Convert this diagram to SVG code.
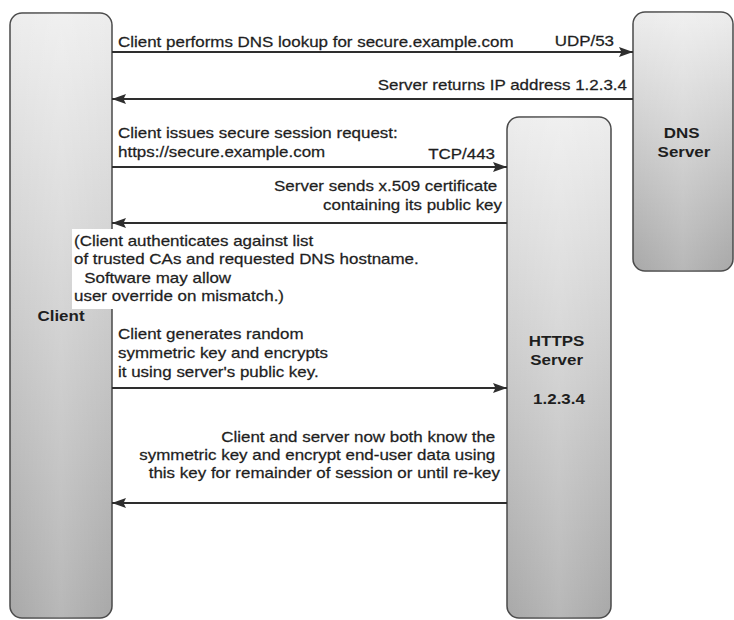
<svg xmlns="http://www.w3.org/2000/svg" width="734" height="620" viewBox="0 0 734 620">
  <defs>
    <linearGradient id="boxFill" x1="0" y1="0" x2="0" y2="1">
      <stop offset="0" stop-color="#ededed"/>
      <stop offset="0.5" stop-color="#cbcbcb"/>
      <stop offset="1" stop-color="#a8a8a8"/>
    </linearGradient>
    <linearGradient id="boxSheen" x1="0" y1="0" x2="1" y2="0">
      <stop offset="0" stop-color="#ffffff" stop-opacity="0"/>
      <stop offset="0.5" stop-color="#ffffff" stop-opacity="0.18"/>
      <stop offset="1" stop-color="#ffffff" stop-opacity="0"/>
    </linearGradient>
    <marker id="arrow" markerUnits="userSpaceOnUse" markerWidth="15" markerHeight="12" refX="14" refY="6" orient="auto">
      <path d="M0,1 L14,6 L0,11 L2.5,6 Z" fill="#2e2e2e"/>
    </marker>
    <style>
      .box { fill: url(#boxFill); stroke: #4a4a4a; stroke-width: 1.5; }
      .sheen { fill: url(#boxSheen); stroke: none; }
      .t { font-family: "Liberation Sans", Arial, Helvetica, sans-serif; font-size: 15px; fill: #1e1e1e; stroke: #1e1e1e; stroke-width: 0.25; }
      .b { font-weight: bold; stroke-width: 0; }
      .e { text-anchor: end; }
      .m { text-anchor: middle; }
      .msg { stroke: #2e2e2e; stroke-width: 2; fill: none; marker-end: url(#arrow); }
    </style>
  </defs>

  <rect width="734" height="620" fill="#ffffff"/>

  <!-- Client lifeline -->
  <g id="client">
    <rect class="box" x="10" y="13" width="102" height="605" rx="12"/>
    <rect class="sheen" x="10" y="13" width="102" height="605" rx="12"/>
    <text class="t b m" transform="translate(61,321) scale(1.13,1)">Client</text>
  </g>

  <!-- HTTPS server lifeline -->
  <g id="https-server">
    <rect class="box" x="507" y="117" width="104" height="501" rx="12"/>
    <rect class="sheen" x="507" y="117" width="104" height="501" rx="12"/>
    <text class="t b m" transform="translate(559,346) scale(1.13,1)">
      <tspan x="0" y="0">HTTPS</tspan>
      <tspan x="0" y="19">Server</tspan>
      <tspan x="0" y="58">1.2.3.4</tspan>
    </text>
  </g>

  <!-- DNS server lifeline -->
  <g id="dns-server">
    <rect class="box" x="633" y="12" width="100" height="259" rx="12"/>
    <rect class="sheen" x="633" y="12" width="100" height="259" rx="12"/>
    <text class="t b m" transform="translate(684,138) scale(1.13,1)">
      <tspan x="0" y="0">DNS</tspan>
      <tspan x="0" y="19">Server</tspan>
    </text>
  </g>

  <!-- Client-side validation note, on a white panel over the client bar -->
  <g id="auth-note">
    <rect x="72" y="229" width="353" height="80" fill="#ffffff"/>
    <text class="t" transform="translate(74,246) scale(1.13,1)">
      <tspan x="0" y="0">(Client authenticates against list</tspan>
      <tspan x="0" y="18.5">of trusted CAs and requested DNS hostname.</tspan>
      <tspan x="9" y="37">Software may allow</tspan>
      <tspan x="0" y="55.5">user override on mismatch.)</tspan>
    </text>
  </g>

  <!-- Message arrows -->
  <g id="connectors">
    <line class="msg" x1="112" y1="52" x2="633" y2="52"/>
    <line class="msg" x1="633" y1="99" x2="112" y2="99"/>
    <line class="msg" x1="112" y1="167" x2="507" y2="167"/>
    <line class="msg" x1="507" y1="223" x2="112" y2="223"/>
    <line class="msg" x1="112" y1="388" x2="507" y2="388"/>
    <line class="msg" x1="507" y1="503" x2="112" y2="503"/>
  </g>

  <!-- Message labels -->
  <g id="labels">
    <text class="t" transform="translate(118,47) scale(1.13,1)">Client performs DNS lookup for secure.example.com</text>
    <text class="t e" transform="translate(614,46) scale(1.13,1)">UDP/53</text>
    <text class="t e" transform="translate(627,90) scale(1.13,1)">Server returns IP address 1.2.3.4</text>
    <text class="t" transform="translate(118,138) scale(1.13,1)">
      <tspan x="0" y="0">Client issues secure session request:</tspan>
      <tspan x="0" y="19">https://secure.example.com</tspan>
    </text>
    <text class="t e" transform="translate(495,159) scale(1.13,1)">TCP/443</text>
    <text class="t e" transform="translate(502,191) scale(1.13,1)">
      <tspan x="0" y="0">Server sends x.509 certificate</tspan>
      <tspan x="0" y="19">containing its public key</tspan>
    </text>
    <text class="t" transform="translate(118,339) scale(1.13,1)">
      <tspan x="0" y="0">Client generates random</tspan>
      <tspan x="0" y="19">symmetric key and encrypts</tspan>
      <tspan x="0" y="38">it using server's public key.</tspan>
    </text>
    <text class="t e" transform="translate(500,442) scale(1.13,1)">
      <tspan x="0" y="0">Client and server now both know the</tspan>
      <tspan x="0" y="18">symmetric key and encrypt end-user data using</tspan>
      <tspan x="0" y="36">this key for remainder of session or until re-key</tspan>
    </text>
  </g>
</svg>
